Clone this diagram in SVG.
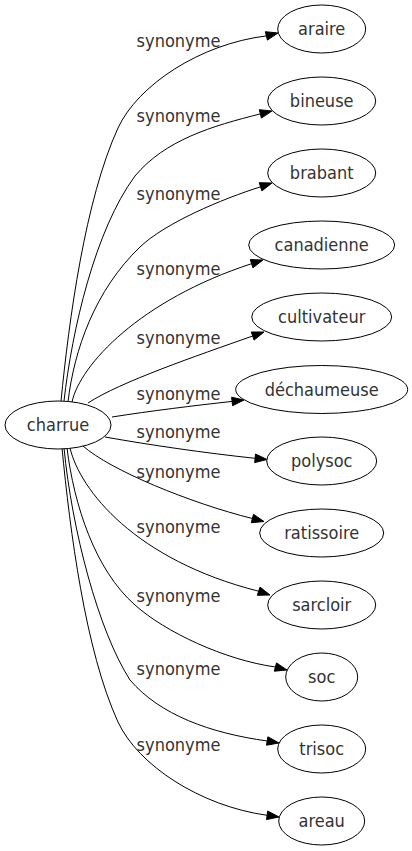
<svg xmlns="http://www.w3.org/2000/svg" width="412" height="851" viewBox="0 0 412 851">
<style>
.n ellipse{fill:#fff;stroke:#000;stroke-width:1}
text{font-family:"DejaVu Sans Condensed","DejaVu Sans",sans-serif;font-stretch:condensed;font-size:18px;fill:#333;text-anchor:middle}
.e path{fill:none;stroke:#000;stroke-width:1}
.e polygon{fill:#000;stroke:#000;stroke-width:1}
</style>
<rect width="412" height="851" fill="#fff"/>
<g class="e" id="edges">
<path d="M61,401 C69,320 85,200 118,128 C138,85 200,44 266.4,35.9"/>
<polygon points="267.4,40.1 278,33 265.3,31.7"/>
<path d="M64,401 C72,330 95,230 135,176 C165,140 212,126 260.4,113.9"/>
<polygon points="261.4,118.1 272,111 259.3,109.7"/>
<path d="M68,402 C74,350 95,290 140,247 C165,223 222,199 260.6,186.8"/>
<polygon points="261.9,190.9 272,183 259.2,182.7"/>
<path d="M72,402 C80,365 140,300 251.6,263.7"/>
<polygon points="252.9,267.8 263,260 250.3,259.6"/>
<path d="M88,403 C120,382 196,356 252.7,336"/>
<polygon points="254.1,340.1 264,332 251.3,332"/>
<path d="M112,417 C150,411 195,405.5 232.1,401.4"/>
<polygon points="232.6,405.7 244,400 231.6,397.2"/>
<path d="M105,437 C150,445 205,453 255.1,458.3"/>
<polygon points="254.7,462.6 267,459.5 255.5,454"/>
<path d="M83,446 C110,470 190,503 252.4,518.5"/>
<polygon points="251.3,522.7 264,521.5 253.5,514.3"/>
<path d="M70,448 C80,490 135,560 258.6,591.2"/>
<polygon points="257.3,595.3 270,595 260,587.1"/>
<path d="M67,448 C74,505 95,570 135,605 C165,632 225,660 275.4,667"/>
<polygon points="274.3,671.2 287,670 276.5,662.9"/>
<path d="M64,448 C72,530 98,630 130,680 C160,715 210,733 267.2,741"/>
<polygon points="266.5,745.2 279,743 267.9,736.8"/>
<path d="M62,448 C70,530 85,650 118,722 C138,765 200,806 267.1,815.3"/>
<polygon points="266.5,819.6 279,817 267.7,811"/>
<text x="178.5" y="47">synonyme</text>
<text x="178.5" y="122">synonyme</text>
<text x="178.5" y="199.5">synonyme</text>
<text x="178.5" y="274.5">synonyme</text>
<text x="178.5" y="344">synonyme</text>
<text x="178.5" y="400">synonyme</text>
<text x="178.5" y="438.3">synonyme</text>
<text x="178.5" y="478">synonyme</text>
<text x="178.5" y="533.3">synonyme</text>
<text x="178.5" y="601.7">synonyme</text>
<text x="178.5" y="675">synonyme</text>
<text x="178.5" y="750.7">synonyme</text>
</g>
<g class="n" id="charrue"><ellipse cx="58" cy="425" rx="53" ry="24"/><text x="58" y="430.5">charrue</text></g>
<g class="n" id="araire"><ellipse cx="321.7" cy="29" rx="44" ry="24"/><text x="321.7" y="35">araire</text></g>
<g class="n" id="bineuse"><ellipse cx="321.7" cy="101" rx="54" ry="24"/><text x="321.7" y="107">bineuse</text></g>
<g class="n" id="brabant"><ellipse cx="321.7" cy="173" rx="54" ry="24"/><text x="321.7" y="179">brabant</text></g>
<g class="n" id="canadienne"><ellipse cx="321.7" cy="245" rx="73" ry="24"/><text x="321.7" y="251">canadienne</text></g>
<g class="n" id="cultivateur"><ellipse cx="321.7" cy="317" rx="70" ry="24"/><text x="321.7" y="323">cultivateur</text></g>
<g class="n" id="dechaumeuse"><ellipse cx="321.7" cy="389.5" rx="86" ry="24"/><text x="321.7" y="395.5">déchaumeuse</text></g>
<g class="n" id="polysoc"><ellipse cx="321.7" cy="461" rx="55" ry="24"/><text x="321.7" y="467">polysoc</text></g>
<g class="n" id="ratissoire"><ellipse cx="321.7" cy="533" rx="62" ry="24"/><text x="321.7" y="539">ratissoire</text></g>
<g class="n" id="sarcloir"><ellipse cx="321.7" cy="605" rx="54" ry="24"/><text x="321.7" y="611">sarcloir</text></g>
<g class="n" id="soc"><ellipse cx="321.7" cy="677" rx="36" ry="24"/><text x="321.7" y="683">soc</text></g>
<g class="n" id="trisoc"><ellipse cx="321.7" cy="749" rx="44" ry="24"/><text x="321.7" y="755">trisoc</text></g>
<g class="n" id="areau"><ellipse cx="321.7" cy="821" rx="43" ry="24"/><text x="321.7" y="827">areau</text></g>
</svg>
